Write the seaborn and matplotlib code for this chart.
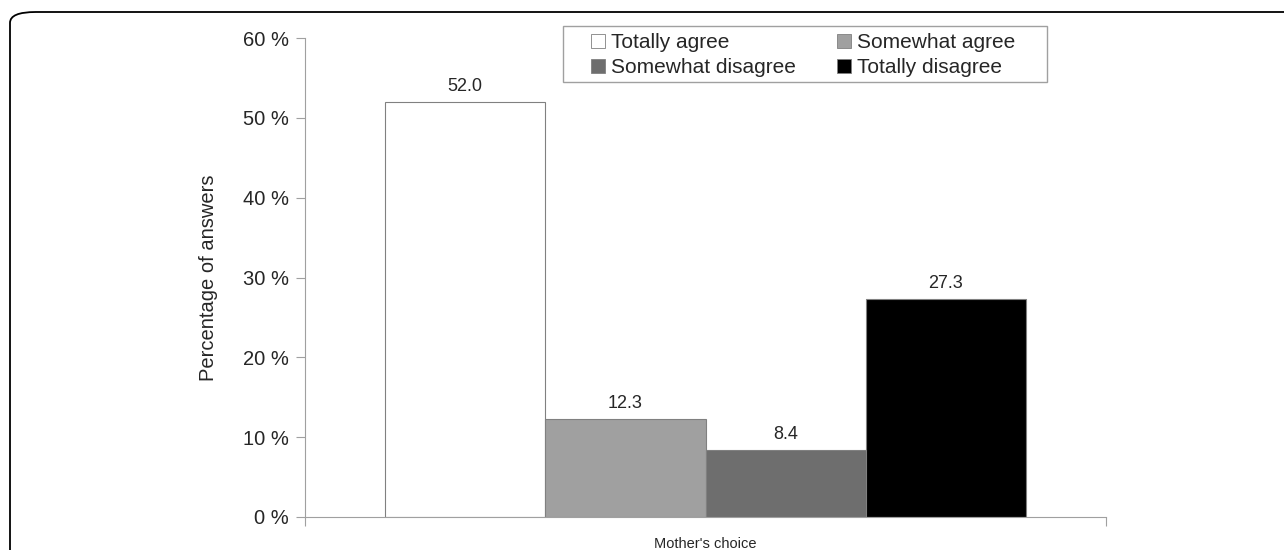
import pandas as pd
import numpy as np
import matplotlib.pyplot as plt
import seaborn as sns
from matplotlib.patches import FancyBboxPatch, Patch, Rectangle

# 資料
category = ["Mother's choice"]
responses = ['Totally agree', 'Somewhat agree', 'Somewhat disagree', 'Totally disagree']
percentages = [52.0, 12.3, 8.4, 27.3]
bar_colors = ['#ffffff', '#a0a0a0', '#6e6e6e', '#000000']
y_ticks = [0, 10, 20, 30, 40, 50, 60]

df = pd.DataFrame({
    'group': category * len(responses),
    'response': responses,
    'pct': percentages,
})

sns.set_style('white')
plt.rcParams['font.family'] = ['Liberation Sans', 'DejaVu Sans']

fig = plt.figure(figsize=(12.84, 5.5), dpi=100)
ax = fig.add_axes([305 / 1284, 33 / 550, 801 / 1284, 479 / 550])

sns.barplot(data=df, x='group', y='pct', hue='response', hue_order=responses,
            palette=bar_colors, width=0.8, edgecolor='#808080', linewidth=0.8,
            legend=False, ax=ax)

for c in ax.containers:
    ax.bar_label(c, fmt='%.1f', padding=5, fontsize=13)

ax.set_xlim(-0.5, 0.5)
ax.set_ylim(0, 60)
ax.set_yticks(y_ticks)
ax.set_yticklabels([f'{t} %' for t in y_ticks], fontsize=14.5)
ax.set_xticks([-0.5, 0.5])
ax.set_xticklabels(['', ''])
ax.set_xlabel("Mother's choice", fontsize=10.5, labelpad=3)
ax.set_ylabel('Percentage of answers', fontsize=14.5, labelpad=18)

ax.tick_params(axis='both', direction='out', left=True, bottom=True,
               length=6.5, width=0.8, color='#a0a0a0', pad=5)
for side in ['top', 'right']:
    ax.spines[side].set_visible(False)
for side in ['left', 'bottom']:
    ax.spines[side].set_color('#a0a0a0')
    ax.spines[side].set_linewidth(0.8)

# 圖例
handles = [Patch(facecolor=col, edgecolor='#808080', linewidth=0.6) for col in bar_colors]
order = [0, 2, 1, 3]
fig.legend([handles[i] for i in order], [responses[i] for i in order],
           loc='upper left', bbox_to_anchor=(591 / 1284, 1 - 33 / 550),
           ncol=2, fontsize=15, frameon=False,
           handlelength=0.65, handleheight=0.65, handletextpad=0.3,
           columnspacing=2.0, borderpad=0, labelspacing=0.3, borderaxespad=0)
fig.patches.append(Rectangle((563 / 1284, 1 - 82 / 550), 484 / 1284, 56 / 550,
                             transform=fig.transFigure, facecolor='none',
                             edgecolor='#a0a0a0', linewidth=1.0))

# 外框
frame = FancyBboxPatch((10 / 1284, -0.1), 1.2, 1 - 12 / 550 + 0.1,
                       boxstyle='round,pad=0,rounding_size=0.02',
                       transform=fig.transFigure, facecolor='none',
                       edgecolor='black', linewidth=1.3, mutation_aspect=550 / 1284 * 2.3)
fig.patches.append(frame)

fig.savefig('out.png', dpi=100)
